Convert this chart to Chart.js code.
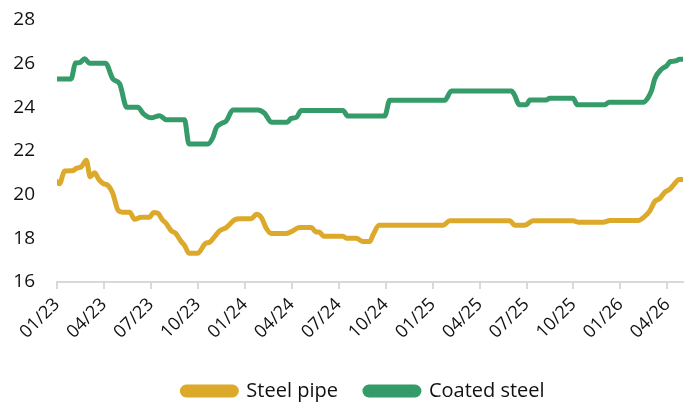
<!DOCTYPE html>
<html>
<head>
<meta charset="utf-8">
<script src="https://cdn.jsdelivr.net/npm/chart.js@4"></script>
<style>
  html, body { margin: 0; padding: 0; background: #fff; }
  #wrap { width: 694px; height: 405px; }
</style>
</head>
<body>
<div id="wrap"><canvas id="grafica" width="694" height="405"></canvas></div>
<script>
// months counted from 01/23 (0 = Jan 2023)
const tickMonths = [0, 3, 6, 9, 12, 15, 18, 21, 24, 27, 30, 33, 36, 39];
const tickLabels = ['01/23', '04/23', '07/23', '10/23', '01/24', '04/24', '07/24',
                    '10/24', '01/25', '04/25', '07/25', '10/25', '01/26', '04/26'];

// Steel pipe
const pipeMonths = [0, 0.16, 0.48, 1.0, 1.27, 1.55, 1.87, 2.12, 2.4, 2.67, 2.97, 3.25, 3.57, 3.89,
  4.17, 4.64, 4.96, 5.38, 5.91, 6.17, 6.45, 6.73, 6.98, 7.3, 7.58, 7.94, 8.15, 8.43, 9.0, 9.49,
  9.75, 10.07, 10.39, 10.82, 11.35, 11.67, 12.42, 12.74, 13.06, 13.38, 13.7, 14.65, 15.08, 15.5,
  16.25, 16.53, 16.78, 17.04, 18.27, 18.5, 19.13, 19.55, 19.98, 20.19, 20.58, 24.67, 25.1, 28.93,
  29.25, 29.89, 30.42, 32.98, 33.3, 34.9, 35.33, 37.14, 37.5, 37.88, 38.2, 38.52, 38.84, 39.16,
  39.41, 39.76, 40.0];
const pipeValues = [20.6, 20.5, 21.08, 21.1, 21.22, 21.27, 21.58, 20.82, 21.0, 20.7, 20.5, 20.43, 20.05, 19.3,
  19.2, 19.2, 18.87, 18.97, 18.97, 19.18, 19.15, 18.85, 18.68, 18.35, 18.23, 17.85, 17.68, 17.32, 17.32, 17.77,
  17.82, 18.08, 18.34, 18.5, 18.85, 18.9, 18.9, 19.1, 18.95, 18.45, 18.22, 18.22, 18.35, 18.5,
  18.5, 18.3, 18.28, 18.1, 18.1, 18.0, 18.0, 17.85, 17.85, 18.15, 18.6, 18.6, 18.8, 18.8,
  18.6, 18.6, 18.8, 18.8, 18.74, 18.74, 18.82, 18.82, 18.97, 19.26, 19.69, 19.83, 20.12, 20.25,
  20.46, 20.7, 20.7];

// Coated steel
const coatMonths = [0, 0.9, 1.18, 1.45, 1.76, 2.08, 3.1, 3.57, 4.0, 4.46, 5.17, 5.53, 6.02, 6.55, 6.98,
  8.15, 8.43, 9.64, 9.96, 10.18, 10.5, 10.82, 11.24, 12.84, 13.27, 13.7, 14.69, 14.97, 15.29, 15.61,
  18.27, 18.59, 20.94, 21.26, 24.78, 25.2, 29.04, 29.25, 29.53, 30.0, 30.21, 31.28, 31.49, 32.98,
  33.24, 35.0, 35.28, 37.46, 37.78, 37.99, 38.2, 38.63, 38.95, 39.2, 39.48, 39.8, 40.0];
const coatValues = [25.3, 25.3, 26.03, 26.05, 26.22, 26.02, 26.02, 25.3, 25.08, 24.0, 24.0, 23.7, 23.52, 23.62, 23.43,
  23.43, 22.32, 22.32, 22.62, 23.07, 23.26, 23.38, 23.88, 23.88, 23.72, 23.32, 23.32, 23.49, 23.54, 23.85,
  23.85, 23.6, 23.6, 24.32, 24.32, 24.75, 24.75, 24.54, 24.12, 24.12, 24.34, 24.34, 24.42, 24.42,
  24.12, 24.12, 24.23, 24.23, 24.46, 24.77, 25.31, 25.75, 25.9, 26.1, 26.12, 26.2, 26.2];

const colorPipe = '#DDA92A';
const colorCoat = '#359B69';

const puntos = (xs, ys) => xs.map((x, i) => ({ x: x, y: ys[i] }));

const familia = "'Open Sans', 'Noto Sans', sans-serif";

// la leyenda del original está un poco desplazada a la derecha
const moverLeyenda = {
    id: 'moverLeyenda',
    afterLayout(chart) {
        if (chart.legend) chart.legend.left += 44;
    }
};

new Chart(document.getElementById('grafica'), {
    type: 'line',
    data: {
        datasets: [
            {
                label: 'Steel pipe',
                data: puntos(pipeMonths, pipeValues),
                borderColor: colorPipe,
                backgroundColor: colorPipe,
                borderWidth: 5
            },
            {
                label: 'Coated steel',
                data: puntos(coatMonths, coatValues),
                borderColor: colorCoat,
                backgroundColor: colorCoat,
                borderWidth: 5
            }
        ]
    },
    options: {
        responsive: false,
        animation: false,
        layout: { padding: { top: 20, right: 11, left: 0, bottom: -6 } },
        elements: {
            point: { radius: 0 },
            line: { cubicInterpolationMode: 'monotone', borderCapStyle: 'round', borderJoinStyle: 'round' }
        },
        scales: {
            x: {
                type: 'linear',
                min: 0,
                max: 40,
                afterBuildTicks: (scale) => { scale.ticks = tickMonths.map(v => ({ value: v })); },
                afterFit: (scale) => { scale.height = 72; scale.paddingLeft = 0; scale.paddingRight = 0; },
                ticks: {
                    autoSkip: false,
                    minRotation: 45,
                    maxRotation: 45,
                    padding: 5,
                    color: '#111',
                    font: { family: familia, size: 18 },
                    callback: (value) => tickLabels[tickMonths.indexOf(value)]
                },
                grid: { drawOnChartArea: false, drawTicks: true, tickLength: 7, color: '#d9d9d9', lineWidth: 2 },
                border: { display: true, color: '#d9d9d9', width: 2 }
            },
            y: {
                min: 16,
                max: 28,
                afterFit: (scale) => { scale.width = 57; scale.paddingTop = 0; scale.paddingBottom = 0; },
                ticks: { stepSize: 2, padding: 22, color: '#111', font: { family: familia, size: 19 } },
                grid: { display: false, drawTicks: false },
                border: { display: false }
            }
        },
        plugins: {
            tooltip: { enabled: false },
            legend: {
                position: 'bottom',
                labels: {
                    boxWidth: 54,
                    boxHeight: 8,
                    useBorderRadius: true,
                    borderRadius: 4,
                    padding: 27,
                    color: '#111',
                    font: { family: familia, size: 20 }
                }
            }
        }
    },
    plugins: [moverLeyenda]
});
</script>
</body>
</html>
